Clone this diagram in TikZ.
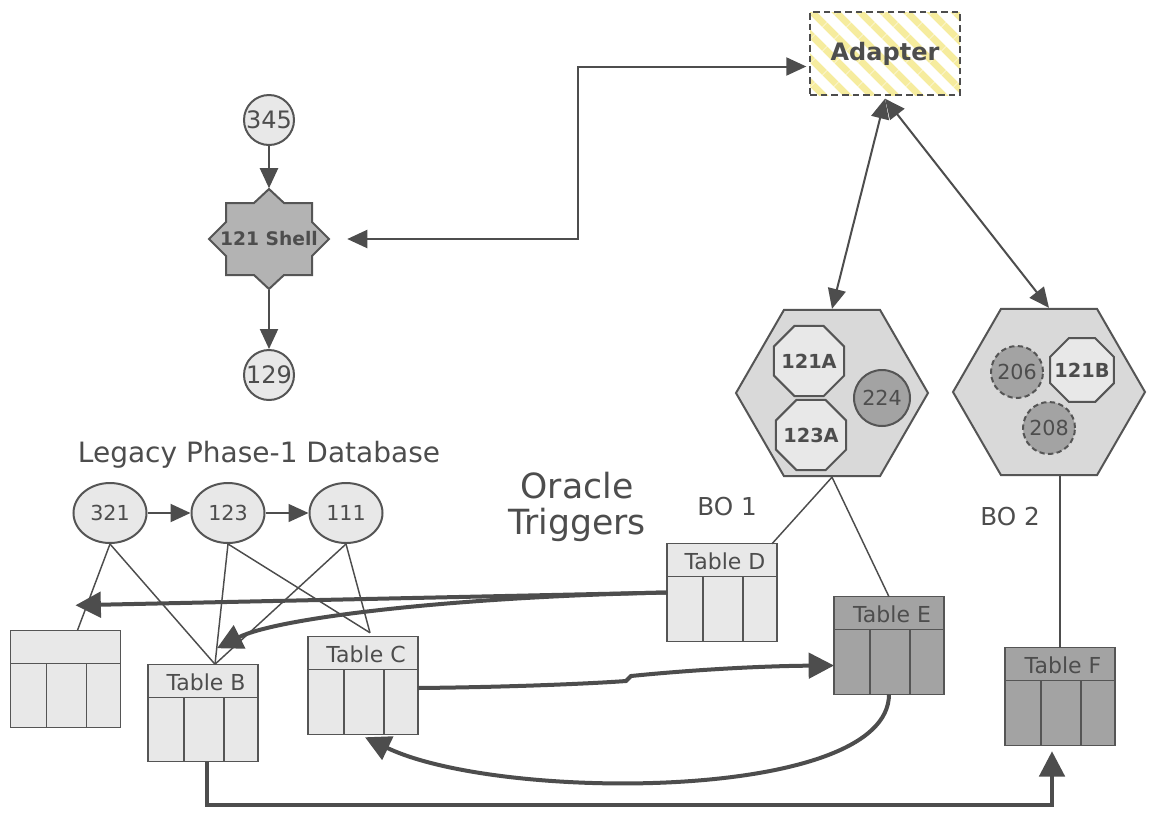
\documentclass[tikz,border=0pt]{standalone}
\usepackage{fontspec}
\setmainfont{DejaVu Sans}
\usetikzlibrary{shapes.geometric,arrows.meta,calc,patterns.meta}
\newdimen\pxu \pxu=0.75pt
\definecolor{cInk}{HTML}{4D4D4D}
\definecolor{cEdge}{HTML}{555555}
\definecolor{cLight}{HTML}{E8E8E8}
\definecolor{cHex}{HTML}{D9D9D9}
\definecolor{cDark}{HTML}{A3A3A3}
\definecolor{cShell}{HTML}{B3B3B3}
\definecolor{cStripe}{HTML}{F6EC9E}
\newcommand\fs[1]{\fontsize{#1pt}{#1pt}\selectfont}
\tikzset{
  every node/.style={text=cInk},
  thinline/.style={draw=cInk, line width=1.1pt},
  medline/.style={draw=cInk, line width=1.5pt},
  thickline/.style={draw=cInk, line width=3pt},
  arr/.style={-{Triangle[length=15pt,width=13.5pt]}},
  barr/.style={{Triangle[length=15pt,width=13.5pt]}-{Triangle[length=15pt,width=13.5pt]}},
  tarr/.style={-{Triangle[length=19pt,width=19pt]}},
  roundnode/.style={circle, draw=cEdge, line width=1.5pt, fill=cLight, inner sep=0pt},
  ellnode/.style={ellipse, draw=cEdge, line width=1.5pt, fill=cLight, inner sep=0pt,
    minimum width=73\pxu, minimum height=60\pxu, font=\fs{15.5}},
  octnode/.style={regular polygon, regular polygon sides=8, draw=cEdge, line width=1.5pt,
    fill=cLight, inner sep=0pt},
  octtext/.style={font=\bfseries\fs{14.5}, inner sep=0pt},
  hexnode/.style={regular polygon, regular polygon sides=6, draw=cEdge, line width=1.5pt,
    fill=cHex, inner sep=0pt, minimum size=192\pxu},
  dotnode/.style={circle, draw=cEdge, line width=1.5pt, fill=cDark, inner sep=0pt, font=\fs{15.5}},
  tbl/.style={draw=cEdge, line width=1.1pt, minimum width=110\pxu, minimum height=97.5\pxu,
    inner sep=0pt, outer sep=0pt},
  tblline/.style={draw=cEdge, line width=1.1pt},
  tbllabel/.style={font=\fs{16.5}, inner sep=0pt, text=cInk}
}
\newcommand\dbtable[4]{%
  \node[tbl, fill=#4] (#1) at (#2) {};
  \draw[tblline] ($(#1.north west)+(0,33)$) -- ($(#1.north east)+(0,33)$)
    ($(#1.north west)+(36,33)$) -- ($(#1.south west)+(36,0)$)
    ($(#1.north west)+(76,33)$) -- ($(#1.south west)+(76,0)$);
  \node[tbllabel] (#1lbl) at ($(#1.north)+(3,18)$) {#3};}
\begin{document}
\begin{tikzpicture}[x=0.75pt,y=-0.75pt]
\useasboundingbox (0,0) rectangle (1157,815);
\fill[white] (0,0) rectangle (1157,815);

% Adapter
\node[draw=cInk, line width=2pt, dash pattern=on 5pt off 3pt,
  preaction={fill=white}, pattern={Lines[angle=-45,distance=13pt,line width=5.5pt]},
  pattern color=cStripe, minimum width=150\pxu, minimum height=83\pxu, inner sep=0pt,
  font=\bfseries\fs{18}] (adapter) at (885,53.5) {Adapter};

% Shell star
\draw[draw=cEdge, line width=1.5pt, fill=cShell, shift={(269,239)}]
  (0,-50) -- (15,-36) -- (43,-36) -- (43,-17) -- (60,0) -- (43,17) -- (43,36) -- (15,36)
  -- (0,50) -- (-15,36) -- (-43,36) -- (-43,17) -- (-60,0) -- (-43,-17) -- (-43,-36)
  -- (-15,-36) -- cycle;
\node[minimum width=120\pxu, minimum height=101\pxu, inner sep=0pt, font=\bfseries\fs{14}]
  (shell) at (269,239) {121 Shell};

\node[roundnode, minimum size=50\pxu, font=\fs{18}] (n345) at (269,120) {345};
\node[roundnode, minimum size=50\pxu, font=\fs{18}] (n129) at (269,375) {129};

% BO hexagons
\node[hexnode] (bo1) at (832,393) {};
\node[hexnode] (bo2) at (1049,392) {};
\node[octnode, minimum size=76\pxu] (o121a) at (809,361) {};
\node[octtext] (t121a) at (o121a.center) {121A};
\node[octnode, minimum size=76\pxu] (o123a) at (811,435) {};
\node[octtext] (t123a) at (o123a.center) {123A};
\node[dotnode, minimum size=56\pxu] (n224) at (882,398) {224};
\node[dotnode, dash pattern=on 4pt off 2.5pt, minimum size=52\pxu] (n206) at (1017,372) {206};
\node[octnode, minimum size=69\pxu] (o121b) at (1082,370) {};
\node[octtext] (t121b) at (o121b.center) {121B};
\node[dotnode, dash pattern=on 4pt off 2.5pt, minimum size=52\pxu] (n208) at (1049,428) {208};

% Legacy ellipses
\node[ellnode] (e321) at (110,513) {321};
\node[ellnode] (e123) at (228,513) {123};
\node[ellnode] (e111) at (346,513) {111};

% Tables
\dbtable{ta}{65.5,679}{}{cLight}
\dbtable{tb}{203,713}{Table B}{cLight}
\dbtable{tc}{363,685.5}{Table C}{cLight}
\dbtable{td}{722,592.5}{Table D}{cLight}
\dbtable{te}{889,645.5}{Table E}{cDark}
\dbtable{tf}{1060,696.5}{Table F}{cDark}

% Labels
\node[font=\fs{21}, anchor=base, inner sep=0pt] (legacy) at (259,462) {Legacy Phase-1 Database};
\node[font={\fontsize{26pt}{27pt}\selectfont}, align=center, inner sep=0pt] (oracle) at (577,507) {Oracle\\Triggers};
\node[font=\fs{18.5}, anchor=base, inner sep=0pt] (bo1lbl) at (727,515) {BO 1};
\node[font=\fs{18.5}, anchor=base, inner sep=0pt] (bo2lbl) at (1010,525) {BO 2};

% Connectors (upper part)
\draw[medline, arr] (n345) -- (shell);
\draw[medline, arr] (shell) -- (n129);
\draw[medline, barr] ($(shell.east)+(18,0)$) -- (578,239) |- ($(adapter.west)+(0,13)$);
\draw[medline, barr] (adapter.south) -- (bo1.north);
\draw[medline, barr] (adapter.south) -- (bo2.north);
\draw[thinline] (bo1.south) -- ($(td.north east)+(-5,0)$);
\draw[thinline] (bo1.south) -- (te.north);
\draw[thinline] (tf.north) -- (tf.north |- bo2.south);

% Legacy connectors
\draw[medline, arr] (e321) -- (e123);
\draw[thinline, arr] (e123) -- (e111);
\draw[thinline] (e321.south) -- ($(ta.north)+(12,0)$);
\draw[thinline] (e321.south) -- ($(tb.north)+(12,0)$);
\draw[thinline] (e123.south) -- ($(tb.north)+(12,0)$);
\draw[thinline] (e123.south) -- ($(tc.north)+(7,-4)$);
\draw[thinline] (e111.south) -- ($(tb.north)+(12,0)$);
\draw[thinline] (e111.south) -- ($(tc.north)+(7,-4)$);

% Trigger arrows
\draw[thickline, tarr] (td.west) -- ($(ta.north)+(10,-25)$);
\draw[thickline, tarr] (td.west) .. controls (450,597) and (277,618) .. ($(tb.north)+(14,-16)$);
\draw[thickline, tarr] ($(tc.east)+(0,2.5)$) .. controls (520,687) and (600,683) .. (626,681)
  -- (631,676) .. controls (690,670) and (760,666) .. ($(te.west)+(0,20)$);
\draw[thickline, tarr] (te.south) .. controls (889,802) and (500,802) .. ($(tc.south)+(2,3)$);
\draw[thickline, tarr] ($(tb.south)+(4,0)$) -- ++(0,43) -| ($(tf.south)+(-8,6)$);
\end{tikzpicture}
\end{document}
